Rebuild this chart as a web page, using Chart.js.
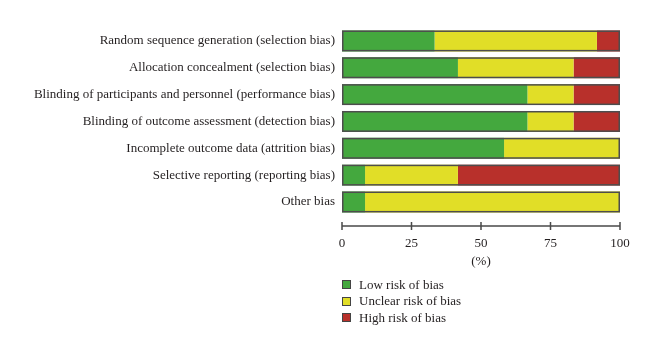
<!DOCTYPE html>
<html><head><meta charset="utf-8">
<script src="https://cdn.jsdelivr.net/npm/chart.js@4"></script>
<style>
html,body{margin:0;padding:0;background:#fff;}
#wrap{position:relative;width:660px;height:356px;}
#legend{position:absolute;font-family:"Liberation Serif",serif;font-size:13px;color:#231f20;}
#legend div{height:16.5px;line-height:16.5px;display:flex;align-items:center;}
#legend span.b{display:inline-block;width:7px;height:7px;border:1px solid #444;margin-right:8px;}
</style></head>
<body><div id="wrap"><canvas id="c" width="660" height="356"></canvas><div id="legend"></div></div>
<script>
const categories = [
  "Random sequence generation (selection bias)",
  "Allocation concealment (selection bias)",
  "Blinding of participants and personnel (performance bias)",
  "Blinding of outcome assessment (detection bias)",
  "Incomplete outcome data (attrition bias)",
  "Selective reporting (reporting bias)",
  "Other bias"
];
const lowRisk     = [33.3, 41.7, 66.7, 66.7, 58.3,  8.3,  8.3];
const unclearRisk = [58.4, 41.6, 16.6, 16.6, 41.7, 33.4, 91.7];
const highRisk    = [ 8.3, 16.7, 16.7, 16.7,  0.0, 58.3,  0.0];
const xTicks = [0, 25, 50, 75, 100];
const seriesNames = ["Low risk of bias", "Unclear risk of bias", "High risk of bias"];
const seriesColors = ["#44a83e", "#e1de27", "#b8302b"];
const totals = categories.map((_, i) => lowRisk[i] + unclearRisk[i] + highRisk[i]);

const FONT = {family: "'Liberation Serif', serif", size: 13};

const decorPlugin = {
  id: 'decor',
  afterDatasetsDraw(chart) {
    const ctx = chart.ctx, xs = chart.scales.x, a = chart.chartArea;
    const meta0 = chart.getDatasetMeta(0);
    ctx.save();
    ctx.strokeStyle = '#4d4d4d';
    ctx.lineWidth = 1.5;
    meta0.data.forEach((el, i) => {
      const p = el.getProps(['x', 'y', 'base', 'height'], true);
      const left = xs.getPixelForValue(0);
      const right = xs.getPixelForValue(totals[i]);
      ctx.strokeRect(left + 0.75, p.y - p.height / 2 + 0.75, right - left - 1.5, p.height - 1.5);
    });
    const y = a.bottom + 10.5;
    ctx.strokeStyle = '#4a4a4a';
    ctx.beginPath();
    ctx.moveTo(xs.getPixelForValue(xTicks[0]), y);
    ctx.lineTo(xs.getPixelForValue(xTicks[xTicks.length - 1]), y);
    xTicks.forEach(t => {
      const px = xs.getPixelForValue(t);
      ctx.moveTo(px, y - 4); ctx.lineTo(px, y + 4);
    });
    ctx.stroke();
    ctx.restore();
  }
};

const chart = new Chart(document.getElementById('c'), {
  type: 'bar',
  data: {
    labels: categories,
    datasets: [
      {label: seriesNames[0], data: lowRisk, backgroundColor: seriesColors[0]},
      {label: seriesNames[1], data: unclearRisk, backgroundColor: seriesColors[1]},
      {label: seriesNames[2], data: highRisk, backgroundColor: seriesColors[2]}
    ]
  },
  options: {
    indexAxis: 'y',
    responsive: false,
    animation: false,
    events: [],
    categoryPercentage: 1,
    barPercentage: 0.78,
    layout: {padding: {top: 27.5, right: 40, bottom: 87, left: 0}},
    plugins: {legend: {display: false}, tooltip: {enabled: false}},
    scales: {
      y: {
        stacked: true,
        grid: {display: false, drawTicks: false},
        border: {display: false},
        ticks: {color: '#231f20', font: FONT, padding: 7},
        afterFit(s) { s.width = 342; }
      },
      x: {
        stacked: true,
        min: 0, max: 100,
        afterBuildTicks(s) { s.ticks = xTicks.map(v => ({value: v})); },
        grid: {display: false, drawTicks: false},
        border: {display: false},
        ticks: {color: '#231f20', font: FONT, padding: 20},
        title: {display: true, text: '(%)', color: '#231f20', font: FONT, padding: {top: 3, bottom: 0}},
        afterFit(s) { s.height = 53.6; }
      }
    }
  },
  plugins: [decorPlugin]
});

const leg = document.getElementById('legend');
leg.style.left = (chart.chartArea.left) + 'px';
leg.style.top = '276.5px';
seriesNames.forEach((n, i) => {
  const d = document.createElement('div');
  const b = document.createElement('span');
  b.className = 'b'; b.style.background = seriesColors[i];
  d.appendChild(b);
  d.appendChild(document.createTextNode(n));
  leg.appendChild(d);
});
</script></body></html>
